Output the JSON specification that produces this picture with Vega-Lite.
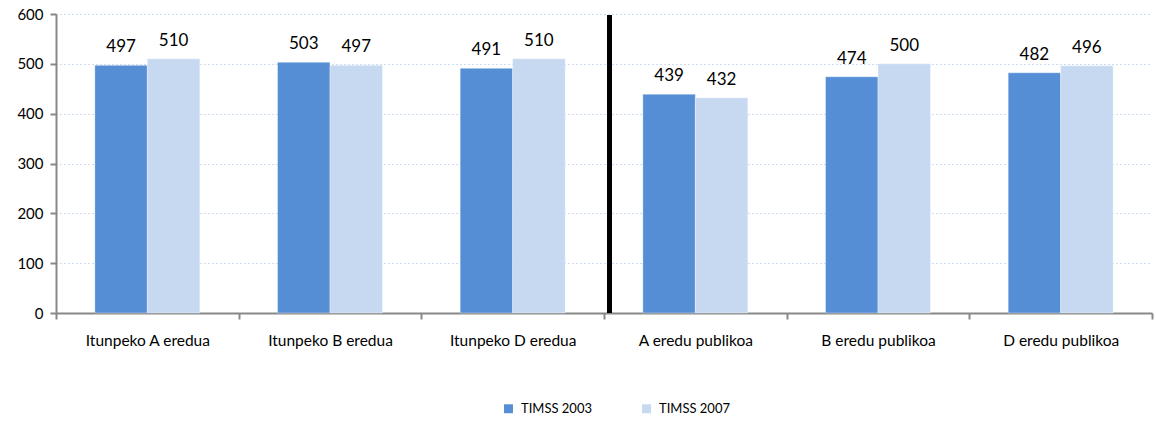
{
  "$schema": "https://vega.github.io/schema/vega-lite/v6.json",
  "width": 1096,
  "height": 299,
  "autosize": "none",
  "padding": {"left": 56, "top": 14, "right": 4, "bottom": 108},
  "config": {
    "view": {"stroke": null},
    "font": "Lato",
    "axis": {"labelFont": "Lato", "labelColor": "#000000"}
  },
  "data": {
    "values": [
      {"category": "Itunpeko A eredua", "series": "TIMSS 2003", "value": 497},
      {"category": "Itunpeko A eredua", "series": "TIMSS 2007", "value": 510},
      {"category": "Itunpeko B eredua", "series": "TIMSS 2003", "value": 503},
      {"category": "Itunpeko B eredua", "series": "TIMSS 2007", "value": 497},
      {"category": "Itunpeko D eredua", "series": "TIMSS 2003", "value": 491},
      {"category": "Itunpeko D eredua", "series": "TIMSS 2007", "value": 510},
      {"category": "A eredu publikoa", "series": "TIMSS 2003", "value": 439},
      {"category": "A eredu publikoa", "series": "TIMSS 2007", "value": 432},
      {"category": "B eredu publikoa", "series": "TIMSS 2003", "value": 474},
      {"category": "B eredu publikoa", "series": "TIMSS 2007", "value": 500},
      {"category": "D eredu publikoa", "series": "TIMSS 2003", "value": 482},
      {"category": "D eredu publikoa", "series": "TIMSS 2007", "value": 496}
    ]
  },
  "encoding": {
    "x": {
      "field": "category",
      "type": "nominal",
      "sort": null,
      "scale": {"paddingInner": 0, "paddingOuter": 0},
      "axis": {
        "title": null,
        "labelAngle": 0,
        "labelFontSize": 15.5,
        "labelPadding": 14,
        "tickBand": "extent",
        "tickSize": 6,
        "tickColor": "#888888",
        "tickWidth": 2,
        "domainColor": "#888888",
        "domainWidth": 2,
        "grid": false
      }
    }
  },
  "layer": [
    {
      "mark": {"type": "bar", "stroke": "#ffffff", "strokeOpacity": 0.35, "strokeWidth": 1},
      "encoding": {
        "xOffset": {
          "field": "series",
          "type": "nominal",
          "scale": {"paddingOuter": 0.74, "paddingInner": 0}
        },
        "y": {
          "field": "value",
          "type": "quantitative",
          "scale": {"domain": [0, 600]},
          "axis": {
            "title": null,
            "values": [0, 100, 200, 300, 400, 500, 600],
            "labelFontSize": 15,
            "labelPadding": 7,
            "tickSize": 6,
            "tickColor": "#888888",
            "tickWidth": 2,
            "domainColor": "#888888",
            "domainWidth": 2,
            "grid": true,
            "gridColor": "#9DB8E4",
            "gridDash": [1, 3],
            "gridWidth": 1
          }
        },
        "color": {
          "field": "series",
          "type": "nominal",
          "scale": {"domain": ["TIMSS 2003", "TIMSS 2007"], "range": ["#558ED5", "#C6D9F1"]},
          "legend": {
            "title": null,
            "orient": "none",
            "direction": "horizontal",
            "legendX": 446,
            "legendY": 388,
            "symbolType": "square",
            "symbolSize": 80,
            "symbolStrokeWidth": 0,
            "labelFontSize": 13,
            "labelFont": "Lato",
            "columnPadding": 48,
            "labelOffset": 6
          }
        }
      }
    },
    {
      "mark": {"type": "text", "baseline": "bottom", "dy": -9, "fontSize": 17, "color": "#000000"},
      "encoding": {
        "xOffset": {
          "field": "series",
          "type": "nominal",
          "scale": {"paddingOuter": 0.74, "paddingInner": 0}
        },
        "y": {"field": "value", "type": "quantitative"},
        "text": {"field": "value", "type": "quantitative"}
      }
    },
    {
      "mark": {"type": "rule", "color": "#000000", "strokeWidth": 4},
      "encoding": {
        "x": {"datum": "A eredu publikoa", "bandPosition": 0.03},
        "y": {"datum": 597},
        "y2": {"datum": 0}
      }
    }
  ]
}
